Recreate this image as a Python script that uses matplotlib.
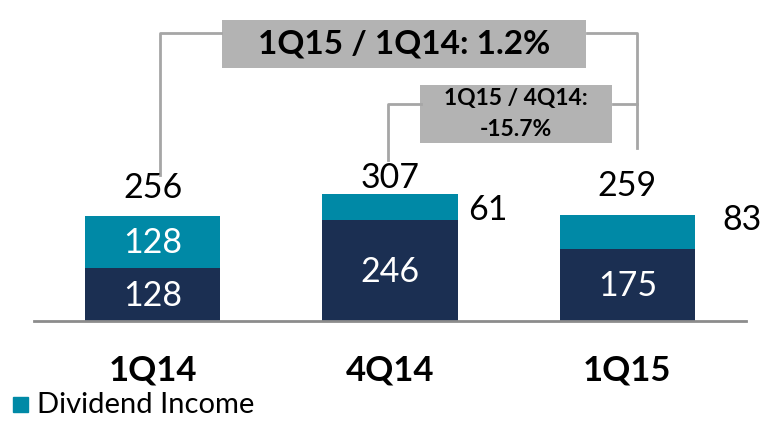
import matplotlib.pyplot as plt

plt.rcParams['font.family'] = ['Lato', 'DejaVu Sans']

# data
quarters = ['1Q14', '4Q14', '1Q15']
base = [128, 246, 175]
dividend = [128, 61, 83]
totals = [256, 307, 259]
yoy_label = '1Q15 / 1Q14: 1.2%'
qoq_label = '1Q15 / 4Q14:\n-15.7%'

navy = '#1b2f52'
teal = '#0089a6'
grey_line = '#a6a6a6'
box_grey = '#b3b3b3'

fig = plt.figure(figsize=(7.63, 4.22), dpi=100)
ax = fig.add_axes([34 / 763, 101 / 422, 712 / 763, 321 / 422])
ax.set_xlim(-0.5, 2.5)
ax.set_ylim(0, 779)

x = list(range(len(quarters)))
ax.bar(x, base, width=0.57, color=navy)
ax.bar(x, dividend, width=0.57, bottom=base, color=teal)

num_fs = 24.5

# labels inside the bars
for i in x:
    ax.text(i, base[i] / 2 - 3, str(base[i]), ha='center', va='center',
            color='white', fontsize=num_fs)
ax.text(0, base[0] + dividend[0] / 2 - 3, str(dividend[0]), ha='center',
        va='center', color='white', fontsize=num_fs)

# dividend labels outside for the thin segments
side_pos = {1: (1.414, 269), 2: (2.485, 245)}
for i, (sx, sy) in side_pos.items():
    ax.text(sx, sy, str(dividend[i]), ha='center', va='center', fontsize=num_fs)

# totals above
total_gap = [28, 1, 30]
for i in x:
    ax.text(i, totals[i] + total_gap[i], str(totals[i]), ha='center',
            va='bottom', fontsize=num_fs)

# brackets
lw = 2
ax.plot([0.03, 0.03, 0.29], [354, 699, 699], color=grey_line, lw=lw)
ax.plot([1.83, 2.04, 2.04], [699, 699, 420], color=grey_line, lw=lw)
ax.plot([0.99, 0.99, 1.13], [391, 527, 527], color=grey_line, lw=lw)
ax.plot([1.94, 2.04], [527, 527], color=grey_line, lw=lw)

ax.fill_between([0.291, 1.827], 614, 731, color=box_grey, lw=0)
ax.text(1.059, 672, yoy_label, ha='center', va='center', fontsize=24,
        fontweight='bold')
ax.fill_between([1.127, 1.937], 432, 573, color=box_grey, lw=0)
ax.text(1.532, 502, qoq_label, ha='center', va='center', fontsize=16.5,
        fontweight='bold', linespacing=1.6)

ax.set_xticks(x)
ax.set_xticklabels(quarters, fontsize=25, fontweight='bold')
ax.tick_params(axis='x', length=0, pad=24)
ax.set_yticks([])
for s in ['top', 'right', 'left']:
    ax.spines[s].set_visible(False)
ax.spines['bottom'].set_color('#8c8c8c')
ax.spines['bottom'].set_linewidth(2)

# legend
fig.patches.append(plt.Rectangle((13 / 763, 10 / 422), 15 / 763, 15 / 422,
                                 transform=fig.transFigure, color=teal))
fig.text(37 / 763, 17 / 422, 'Dividend Income', fontsize=21, va='center')

fig.savefig('out.png', dpi=100)
